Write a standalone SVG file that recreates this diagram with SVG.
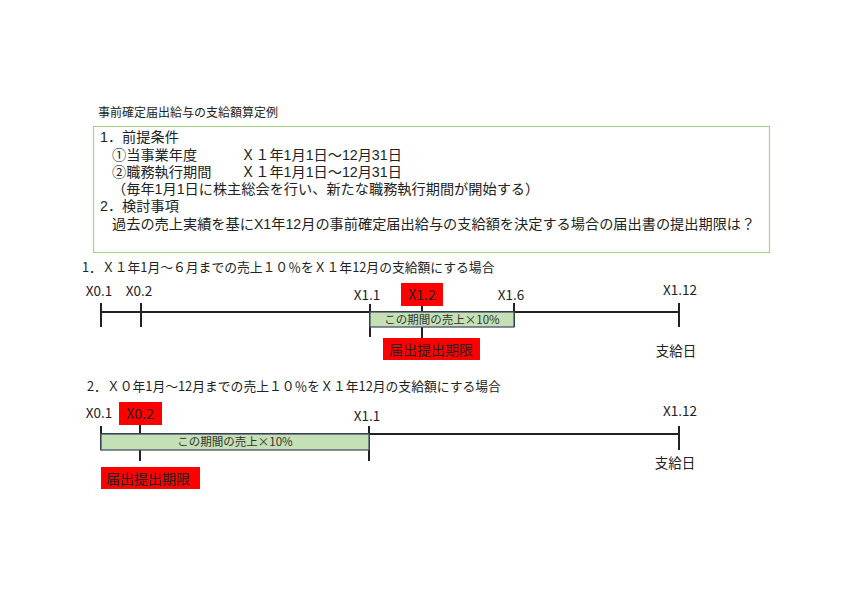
<svg xmlns="http://www.w3.org/2000/svg" width="842" height="595" viewBox="0 0 842 595">
<style>
text{font-family:"Noto Sans CJK JP","Noto Sans",sans-serif;fill:#222}
.t{font-size:12px}
.b{font-size:14.2px;font-family:"Liberation Sans","Noto Sans CJK JP",sans-serif}
.h{font-size:12.8px}
.lb{font-size:13.5px;text-anchor:middle}
.ax{stroke:#222;stroke-width:2;fill:none}
.tk{stroke:#222;stroke-width:2}
.per{fill:#C5E0B4;stroke:#44546A;stroke-width:1.3}
.pl{font-size:11.5px;text-anchor:middle;fill:#333}
.red{fill:#FF0000}
.rt{font-size:14px;text-anchor:middle;fill:#222}
</style>
<rect width="842" height="595" fill="#fff"/>
<g id="title"><text class="t" x="98" y="117">事前確定届出給与の支給額算定例</text></g>
<g id="conditions">
<rect x="93.5" y="126.5" width="676" height="126" fill="#fff" stroke="#A9D18E" stroke-width="1.2"/>
<text class="b" x="100" y="142">1．前提条件</text>
<text class="b" x="112" y="160">①当事業年度</text>
<text class="b" x="241" y="160">Ｘ１年1月1日～12月31日</text>
<text class="b" x="112" y="177">②職務執行期間</text>
<text class="b" x="241" y="177">Ｘ１年1月1日～12月31日</text>
<text class="b" x="112" y="194">（毎年1月1日に株主総会を行い、新たな職務執行期間が開始する）</text>
<text class="b" x="100" y="211">2．検討事項</text>
<text class="b" x="112" y="229">過去の売上実績を基にX1年12月の事前確定届出給与の支給額を決定する場合の届出書の提出期限は？</text>
</g>
<g id="case1-heading"><text class="h" x="82" y="272">1．Ｘ１年1月～６月までの売上１０％をＸ１年12月の支給額にする場合</text></g>
<g id="connectors">
<line class="ax" x1="101" y1="312" x2="679" y2="312"/>
<line class="tk" x1="101" y1="303" x2="101" y2="327"/>
<line class="tk" x1="141" y1="303" x2="141" y2="327"/>
<line class="tk" x1="370" y1="304" x2="370" y2="337"/>
<line class="tk" x1="422" y1="305" x2="422" y2="338"/>
<line class="tk" x1="514" y1="303" x2="514" y2="327"/>
<line class="tk" x1="679" y1="303" x2="679" y2="327"/>
<line class="ax" x1="101" y1="434" x2="679" y2="434"/>
<line class="tk" x1="101" y1="426" x2="101" y2="450"/>
<line class="tk" x1="140" y1="424" x2="140" y2="461"/>
<line class="tk" x1="369" y1="426" x2="369" y2="461"/>
<line class="tk" x1="679" y1="426" x2="679" y2="450"/>
</g>
<g id="case1-period"><rect class="per" x="370" y="312" width="144" height="15"/><text class="pl" x="442" y="324">この期間の売上×10%</text></g>
<g id="case1-x01"><text class="lb" x="99" y="296">X0.1</text></g>
<g id="case1-x02"><text class="lb" x="139" y="296">X0.2</text></g>
<g id="case1-x11"><text class="lb" x="367" y="300">X1.1</text></g>
<g id="case1-x12"><rect class="red" x="401" y="283" width="42" height="23"/><text class="rt" x="422" y="300">X1.2</text></g>
<g id="case1-x16"><text class="lb" x="511" y="300">X1.6</text></g>
<g id="case1-x112"><text class="lb" x="680" y="295">X1.12</text></g>
<g id="case1-deadline"><rect class="red" x="383" y="338" width="97" height="22"/><text class="rt" x="431" y="355">届出提出期限</text></g>
<g id="case1-pay"><text class="lb" x="676" y="356">支給日</text></g>
<g id="case2-heading"><text class="h" x="87" y="391">2．Ｘ０年1月～12月までの売上１０％をＸ１年12月の支給額にする場合</text></g>
<g id="case2-period"><rect class="per" x="101" y="434" width="268" height="16"/><text class="pl" x="235" y="446">この期間の売上×10%</text></g>
<g id="case2-x01"><text class="lb" x="99" y="418">X0.1</text></g>
<g id="case2-x02"><rect class="red" x="119" y="402" width="43" height="23"/><text class="rt" x="140" y="419">X0.2</text></g>
<g id="case2-x11"><text class="lb" x="367" y="421">X1.1</text></g>
<g id="case2-x112"><text class="lb" x="680" y="416">X1.12</text></g>
<g id="case2-deadline"><rect class="red" x="101" y="467" width="99" height="22"/><text class="rt" x="148" y="484">届出提出期限</text></g>
<g id="case2-pay"><text class="lb" x="675" y="468">支給日</text></g>
</svg>
